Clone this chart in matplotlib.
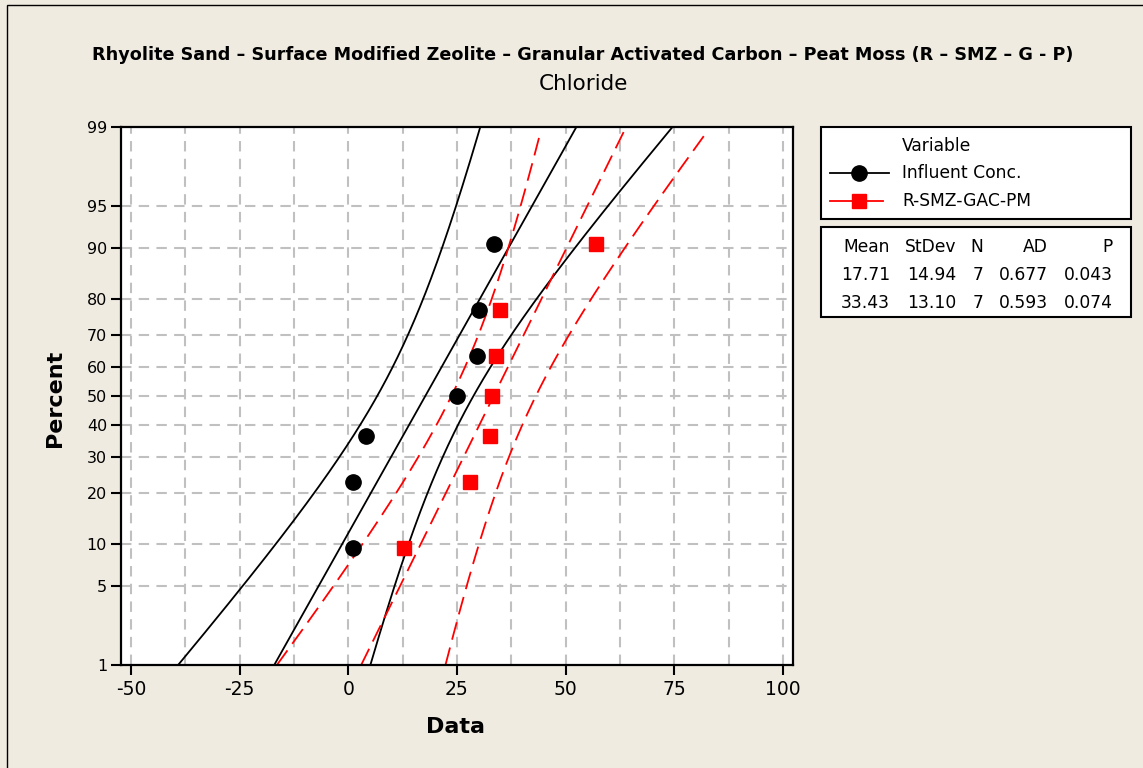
import matplotlib
matplotlib.use('Agg')
import matplotlib.pyplot as plt
import numpy as np
from statistics import NormalDist
from matplotlib.patches import Rectangle
from matplotlib.lines import Line2D

# ---------------- data ----------------
influent = [1.0, 1.0, 4.0, 25.0, 29.5, 30.0, 33.5]
rsmz = [12.8, 28.0, 32.5, 33.0, 34.0, 34.8, 57.0]
series_names = ["Influent Conc.", "R-SMZ-GAC-PM"]
means = [17.71, 33.43]
stdevs = [14.94, 13.10]
ns = [7, 7]
ads = [0.677, 0.593]
pvals = [0.043, 0.074]
pct_ticks = [1, 5, 10, 20, 30, 40, 50, 60, 70, 80, 90, 95, 99]
x_ticks = [-50, -25, 0, 25, 50, 75, 100]
title1 = "Rhyolite Sand \u2013 Surface Modified Zeolite \u2013 Granular Activated Carbon \u2013 Peat Moss (R \u2013 SMZ \u2013 G - P)"
title2 = "Chloride"

W, H = 1143, 768
BG = '#EFEBE1'
nd = NormalDist()

def z(p):
    return nd.inv_cdf(p)

fig = plt.figure(figsize=(W / 100, H / 100), dpi=100)
fig.patch.set_facecolor(BG)
plt.rcParams['font.family'] = ['DejaVu Sans']

# outer frame (left and top visible)
fig.patches.append(Rectangle((7 / W, -0.5), 1.5, 1.5 - 5 / H, transform=fig.transFigure,
                             fill=False, edgecolor='black', lw=1.0))

ax = fig.add_axes([121 / W, 1 - 665 / H, (793 - 121) / W, (665 - 127) / H])
ax.set_facecolor('white')

zlo, zhi = z(0.01), z(0.99)
ax.set_ylim(zlo, zhi)
ax.set_xlim(-52.3, 102.3)

# grid
for xv in np.arange(-50, 100.1, 12.5):
    ax.axvline(xv, color='#C0C0C0', lw=1.5, ls=(0, (5, 3.5)), zorder=0)
for pv in pct_ticks[1:-1]:
    ax.axhline(z(pv / 100), color='#C0C0C0', lw=1.5, ls=(0, (5, 3.5)), zorder=0)

colors = ['black', 'red']
data_sets = [influent, rsmz]
for k in range(2):
    mu, sd, n = means[k], stdevs[k], ns[k]
    ztop = zhi if k == 0 else z(0.9888)
    zz = np.linspace(zlo, ztop, 300)
    fit = mu + zz * sd
    hw = 1.96 * sd * np.sqrt(1.0 / n + zz ** 2 * 0.079)
    if k == 0:
        kw = dict(color='black', lw=1.3, ls='-')
    else:
        kw = dict(color='red', lw=1.3, ls=(0, (10, 4.5)))
    for curve in (fit, fit - hw, fit + hw):
        ax.plot(curve, zz, zorder=2, **kw)
    vals = sorted(data_sets[k])
    pos = [z((i + 1 - 0.3) / (n + 0.4)) for i in range(n)]
    if k == 0:
        ax.plot(vals, pos, 'o', color='black', ms=11, zorder=3, clip_on=False)
    else:
        ax.plot(vals, pos, 's', color='red', ms=9.5, mec='red', zorder=3, clip_on=False)

ax.set_yticks([z(p / 100) for p in pct_ticks])
ax.set_yticklabels([str(p) for p in pct_ticks], fontsize=11.5)
ax.set_xticks(x_ticks)
ax.set_xticklabels([str(v) for v in x_ticks], fontsize=13.5)
ax.tick_params(axis='both', direction='out', length=7, width=1.5, color='black', labelcolor='black')
ax.tick_params(axis='y', pad=3)
ax.tick_params(axis='x', pad=4)
for s in ax.spines.values():
    s.set_linewidth(1.6)
    s.set_color('black')

fig.text(55 / W, 1 - 398 / H, "Percent", rotation=90, ha='center', va='center',
         fontsize=16, fontweight='bold')
fig.text(455 / W, 1 - 727 / H, "Data", ha='center', va='center', fontsize=16, fontweight='bold')

fig.text(583 / W, 1 - 55 / H, title1, ha='center', va='center', fontsize=12.7, fontweight='bold')
fig.text(583 / W, 1 - 84 / H, title2, ha='center', va='center', fontsize=15.5)

# legend box
def box(x0, y0, x1, y1):
    fig.patches.append(Rectangle((x0 / W, 1 - y1 / H), (x1 - x0) / W, (y1 - y0) / H,
                                 transform=fig.transFigure, facecolor='white',
                                 edgecolor='black', lw=1.5))

box(821, 127, 1131, 219)
box(821, 227, 1131, 317)

FS = 12.3
fig.text(902 / W, 1 - 146 / H, "Variable", ha='left', va='center', fontsize=FS)
leg_y = [173, 201]
for k in range(2):
    y = 1 - leg_y[k] / H
    x_end = 889 if k == 0 else 883
    fig.lines.append(Line2D([830 / W, x_end / W], [y, y], transform=fig.transFigure,
                            color=colors[k], lw=1.3))
    fig.lines.append(Line2D([859 / W], [y], transform=fig.transFigure, color=colors[k],
                            marker='o' if k == 0 else 's', ms=11 if k == 0 else 9.5, lw=0))
    fig.text(902 / W, y, series_names[k], ha='left', va='center', fontsize=FS)

col_x = [890, 956, 983, 1048, 1113]
headers = ["Mean", "StDev", "N", "AD", "P"]
for i, hd in enumerate(headers):
    fig.text(col_x[i] / W, 1 - 247 / H, hd, ha='right', va='center', fontsize=FS)
row_y = [275, 303]
for k in range(2):
    row = [f"{means[k]:.2f}", f"{stdevs[k]:.2f}", f"{ns[k]}", f"{ads[k]:.3f}", f"{pvals[k]:.3f}"]
    for i, t in enumerate(row):
        fig.text(col_x[i] / W, 1 - row_y[k] / H, t, ha='right', va='center', fontsize=FS)

fig.savefig('out.png', dpi=100, facecolor=BG)
